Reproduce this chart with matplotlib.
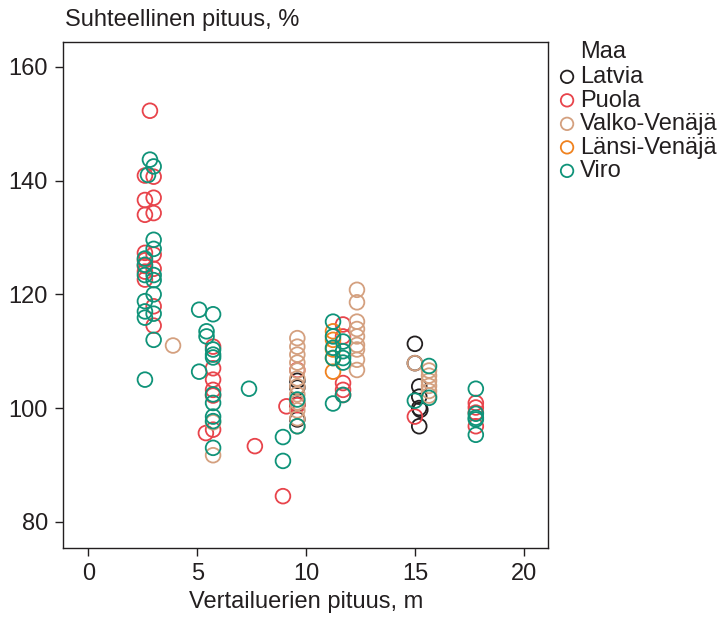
import matplotlib
matplotlib.use("Agg")
import matplotlib.pyplot as plt

plt.rcParams['font.family'] = ['Liberation Sans', 'DejaVu Sans']

# ---------------------------
# DATA: (length m, relative length %) per country
# ---------------------------

countries = ["Latvia", "Puola", "Valko-Venäjä", "Länsi-Venäjä", "Viro"]
colors = ["#231f20", "#e8444b", "#d4a07f", "#f0821e", "#0f9379"]

latvia_x = [9.6, 9.6, 9.6, 9.6, 15.0, 15.0, 15.2, 15.2, 15.2, 15.25, 15.2]
latvia_y = [104.8, 103.6, 100.6, 98.0, 111.3, 107.9, 103.8, 102.0, 100.0, 99.7, 96.8]

puola_x = [2.6, 2.6, 2.6, 2.6, 2.6, 2.6, 2.6, 2.6, 2.83,
           3.0, 3.0, 3.0, 3.0, 3.0, 3.0, 3.0,
           5.73, 5.73, 5.73, 5.73, 5.73, 5.73, 5.4, 7.65, 8.94, 9.1, 9.6, 9.6,
           11.7, 11.7, 11.7, 11.7, 11.7, 15.0,
           17.8, 17.8, 17.8, 17.8]
puola_y = [140.9, 136.6, 134.0, 127.3, 126.0, 125.0, 122.6, 124.0, 152.3,
           140.7, 137.0, 134.3, 127.0, 124.5, 117.9, 114.5,
           110.8, 107.0, 105.0, 103.2, 102.2, 96.2, 95.6, 93.3, 84.5, 100.3, 106.7, 100.5,
           114.7, 112.6, 104.4, 103.2, 102.3, 98.5,
           100.9, 100.1, 99.2, 96.8]

valko_x = [3.89, 5.73, 5.73,
           9.6, 9.6, 9.6, 9.6, 9.6, 9.6, 9.6, 9.6, 9.6, 9.6, 9.6, 9.6,
           12.34, 12.34, 12.34, 12.34, 12.34, 12.34, 12.34, 12.34, 12.34,
           15.0, 15.65, 15.65, 15.65, 15.65, 15.65, 15.65]
valko_y = [111.0, 97.5, 91.7,
           112.3, 110.8, 109.4, 108.0, 106.6, 105.2, 103.8, 102.4, 101.0, 99.6, 98.2, 96.8,
           120.8, 118.6, 115.2, 113.9, 112.6, 111.1, 110.3, 108.5, 106.7,
           107.9, 106.6, 105.7, 104.8, 103.9, 103.0, 102.2]

lansi_x = [11.24, 11.24, 11.24, 11.24, 11.24]
lansi_y = [113.5, 112.0, 110.3, 108.8, 106.4]

viro_x = [2.6, 2.6, 2.6, 2.6, 2.6, 2.6, 2.6, 2.74, 2.83,
          3.0, 3.0, 3.0, 3.0, 3.0, 3.0, 3.0, 3.0,
          5.09, 5.09, 5.73, 5.73, 5.73, 5.73, 5.73, 5.73, 5.73, 5.73, 5.73,
          5.43, 5.43, 7.38, 8.94, 8.94, 9.6, 9.6,
          11.24, 11.24, 11.24, 11.24, 11.24,
          11.7, 11.7, 11.7, 11.7, 11.7,
          15.0, 15.65, 15.65,
          17.8, 17.8, 17.8, 17.8, 17.8]
viro_y = [126.3, 125.2, 123.4, 118.8, 117.0, 115.9, 105.0, 141.0, 143.7,
          142.5, 129.6, 128.0, 123.4, 122.5, 120.0, 116.6, 112.0,
          117.3, 106.4, 116.5, 110.3, 109.4, 108.9, 102.4, 100.9, 98.5, 97.7, 93.0,
          113.5, 112.6, 103.4, 94.9, 90.7, 101.5, 96.8,
          115.2, 112.6, 110.6, 108.8, 100.8,
          111.7, 110.0, 108.8, 108.0, 102.3,
          101.3, 107.4, 101.8,
          103.4, 99.0, 98.3, 98.0, 95.3]

series_x = [latvia_x, puola_x, valko_x, lansi_x, viro_x]
series_y = [latvia_y, puola_y, valko_y, lansi_y, viro_y]

x_ticks = [0, 5, 10, 15, 20]
y_ticks = [80, 100, 120, 140, 160]

# ---------------------------
# PLOT
# ---------------------------

text_color = "#231f20"
fs = 17
fig = plt.figure(figsize=(7.21, 6.17), dpi=100)
ax = fig.add_axes([0.0878, 0.112, 0.6727, 0.820])

for name, xs, ys, col in zip(countries, series_x, series_y, colors):
    ax.scatter(xs, ys, s=112, facecolors="none", edgecolors=col,
               linewidths=1.3, label=name)

ax.set_xlim(-1.15, 21.13)
ax.set_ylim(75.4, 164.4)
ax.set_xticks(x_ticks)
ax.set_yticks(y_ticks)
ax.tick_params(direction="out", length=6, width=1, colors=text_color,
               labelsize=fs, pad=5)
for sp in ax.spines.values():
    sp.set_color(text_color)
    sp.set_linewidth(1)

fig.text(0.090, 0.968, "Suhteellinen pituus, %", fontsize=fs,
         color=text_color, ha="left", va="center")
fig.text(0.424, 0.024, "Vertailuerien pituus, m", fontsize=fs,
         color=text_color, ha="center", va="center")

# legend title sits flush with the entry labels, so draw it as plain text
fig.text(0.8044, 0.9157, "Maa", fontsize=fs, color=text_color,
         ha="left", va="center")
leg = ax.legend(loc="upper left", bbox_to_anchor=(0.7734, 0.893),
                bbox_transform=fig.transFigure,
                frameon=False, fontsize=fs,
                handletextpad=0.15, labelspacing=0.064, borderaxespad=0,
                borderpad=0, markerscale=0.85, handlelength=0.8)
for t in leg.get_texts():
    t.set_color(text_color)

fig.savefig("out.png", dpi=100)
